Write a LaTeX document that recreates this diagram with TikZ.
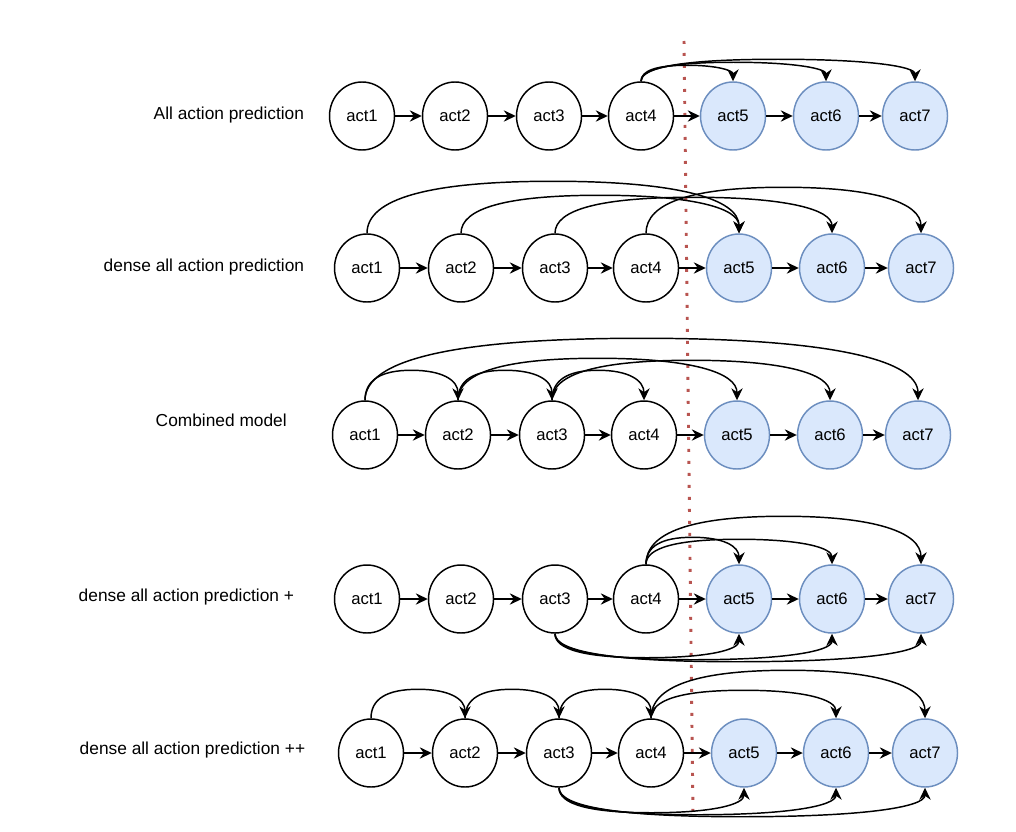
\documentclass[tikz,border=0pt]{standalone}
\usepackage{fontspec}
\setmainfont{Liberation Sans}
\usetikzlibrary{shapes,arrows.meta,calc}
\definecolor{predfill}{HTML}{DAE8FC}
\definecolor{preddraw}{HTML}{6C8EBF}
\definecolor{cutred}{HTML}{B85450}

\begin{document}
\begin{tikzpicture}[x=0.75pt,y=-0.75pt,line width=1.1pt,
    >={Stealth[length=9pt,width=8.5pt,inset=3pt]},
    act/.style={ellipse,draw,fill=white,minimum width=48.75pt,minimum height=51pt,inner sep=0pt,font=\fontsize{12.5}{14}\selectfont},
    pred/.style={act,draw=preddraw,fill=predfill},
    model/.style={anchor=west,inner sep=0pt,font=\fontsize{13}{15}\selectfont},
    cut/.style={draw=cutred,line width=2.2pt,dash pattern=on 2.2pt off 6.8pt},
    hop/.style={to path={let \p1=(\tikztostart), \p2=(\tikztotarget) in
      .. controls (\x1,{\y1+(#1)*0.5pt}) and ({(5*\x1+\x2)/6},{\y1+(#1)*0.75pt}) .. ({(\x1+\x2)/2},{\y1+(#1)*0.75pt})
      .. controls ({(\x1+5*\x2)/6},{\y1+(#1)*0.75pt}) and (\x2,{\y1+(#1)*0.5pt}) .. (\tikztotarget)}}]
        \useasboundingbox (0,0) rectangle (1016,831);
        % observed / predicted split
        \draw [cut] (684,41) coordinate (cuttop) -- (693,816) coordinate (cutbot);
        % row labels
        \node [model] (l1) at (153,115) {All action prediction};
        \node [model] (l2) at (103,267) {dense all action prediction};
        \node [model] (l3) at (155,420) {Combined model};
        \node [model] (l4) at (78,597) {dense all action prediction +};
        \node [model] (l5) at (79,750) {dense all action prediction ++};
        % all action prediction
        \foreach \n/\x in {1/362,2/455,3/549,4/641} \node [act] (a\n) at (\x,116) {act\n};
        \foreach \n/\x in {5/733,6/826,7/915} \node [pred] (a\n) at (\x,116) {act\n};
        \foreach \i [count=\j from 2] in {1,...,6} \draw [->] (a\i) -- (a\j);
        \draw [->] (a4.north) to [hop=16] (a5.north);
        \draw [->] (a4.north) to [hop=19] (a6.north);
        \draw [->] (a4.north) to [hop=22] (a7.north);
        % dense all action prediction
        \foreach \n/\x in {1/367,2/461,3/555,4/646} \node [act] (b\n) at (\x,268) {act\n};
        \foreach \n/\x in {5/739,6/832,7/921} \node [pred] (b\n) at (\x,268) {act\n};
        \foreach \i [count=\j from 2] in {1,...,6} \draw [->] (b\i) -- (b\j);
        \draw [->] (b1.north) to [hop=52] (b5.north);
        \draw [->] (b2.north) to [hop=38] (b5.north);
        \draw [->] (b3.north) to [hop=36] (b6.north);
        \draw [->] (b4.north) to [hop=46] (b7.north);
        % combined model
        \foreach \n/\x in {1/365,2/458,3/552,4/644} \node [act] (c\n) at (\x,435) {act\n};
        \foreach \n/\x in {5/737,6/830,7/918} \node [pred] (c\n) at (\x,435) {act\n};
        \foreach \i [count=\j from 2] in {1,...,6} \draw [->] (c\i) -- (c\j);
        \draw [->] (c1.north) to [hop=62] (c7.north);
        \draw [->] (c1.north) to [hop=30] (c2.north);
        \draw [->] (c2.north) to [hop=30] (c3.north);
        \draw [->] (c3.north) to [hop=30] (c4.north);
        \draw [->] (c2.north) to [hop=42] (c5.north);
        \draw [->] (c3.north) to [hop=40] (c6.north);
        % dense all action prediction +
        \foreach \n/\x in {1/367,2/461,3/555,4/646} \node [act] (d\n) at (\x,599) {act\n};
        \foreach \n/\x in {5/739,6/832,7/921} \node [pred] (d\n) at (\x,599) {act\n};
        \foreach \i [count=\j from 2] in {1,...,6} \draw [->] (d\i) -- (d\j);
        \draw [->] (d4.north) to [hop=27] (d5.north);
        \draw [->] (d4.north) to [hop=25] (d6.north);
        \draw [->] (d4.north) to [hop=48] (d7.north);
        \draw [->] (d3.south) to [hop=-24] (d5.south);
        \draw [->] (d3.south) to [hop=-26] (d6.south);
        \draw [->] (d3.south) to [hop=-28] (d7.south);
        % dense all action prediction ++
        \foreach \n/\x in {1/371,2/465,3/559,4/651} \node [act] (e\n) at (\x,753) {act\n};
        \foreach \n/\x in {5/744,6/836,7/925} \node [pred] (e\n) at (\x,753) {act\n};
        \foreach \i [count=\j from 2] in {1,...,6} \draw [->] (e\i) -- (e\j);
        \draw [->] (e1.north) to [hop=29] (e2.north);
        \draw [->] (e2.north) to [hop=29] (e3.north);
        \draw [->] (e3.north) to [hop=29] (e4.north);
        \draw [->] (e4.north) to [hop=28] (e6.north);
        \draw [->] (e4.north) to [hop=48] (e7.north);
        \draw [->] (e3.south) to [hop=-25] (e5.south);
        \draw [->] (e3.south) to [hop=-27] (e6.south);
        \draw [->] (e3.south) to [hop=-29] (e7.south);
      \end{tikzpicture}
\end{document}
